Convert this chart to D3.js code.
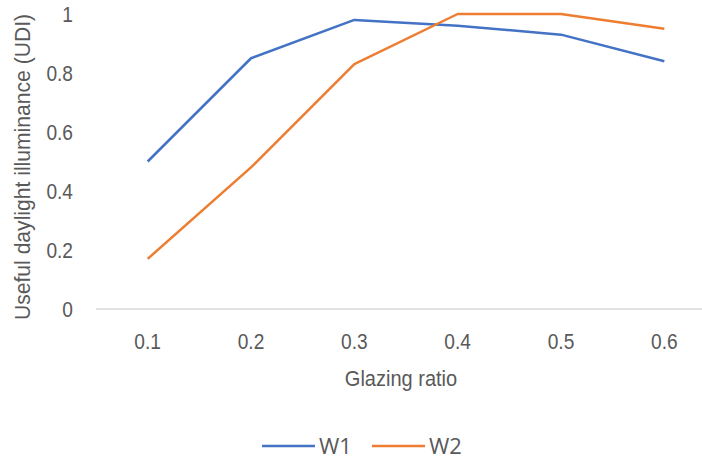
<!DOCTYPE html>
<html><head><meta charset="utf-8">
<script src="https://cdn.jsdelivr.net/npm/d3@7"></script>
<style>body{margin:0;background:#fff}</style>
</head><body><svg id="c" width="702" height="459"></svg>
<script>
const categories = ["0.1","0.2","0.3","0.4","0.5","0.6"];
const w1 = [0.50, 0.85, 0.98, 0.96, 0.93, 0.84];
const w2 = [0.17, 0.48, 0.83, 1.00, 1.00, 0.95];
const yTicks = [0, 0.2, 0.4, 0.6, 0.8, 1];
const seriesNames = ["W1","W2"];
const colors = ["#4472C4","#ED7D31"];

const svg = d3.select("#c");
const font = "'Liberation Sans',Arial,sans-serif";
const x = d3.scaleBand().domain(categories).range([96, 716]);
const y = d3.scaleLinear().domain([0, 1]).range([309, 14]);

// baseline
svg.append("line").attr("x1", 96).attr("x2", 702).attr("y1", y(0)).attr("y2", y(0))
  .attr("stroke", "#d9d9d9").attr("stroke-width", 1.3);

// helper: condensed text drawn at (px,py) with horizontal scale sx
function ctext(px, py, str, anchor, sx, rot) {
  const g = svg.append("g").attr("transform", `translate(${px},${py})` + (rot ? ` rotate(${rot})` : "") + ` scale(${sx},1)`);
  return g.append("text").attr("text-anchor", anchor).attr("font-family", font)
    .attr("font-size", 22).attr("fill", "#595959").text(str);
}

// y tick labels
yTicks.forEach(d => {
  ctext(73, y(d), d === 0 || d === 1 ? String(d) : d.toFixed(1), "end", 0.87).attr("dy", "0.36em");
});

// x tick labels
categories.forEach(d => {
  ctext(x(d) + x.bandwidth()/2, 349, d, "middle", 0.87);
});

// axis titles
ctext(401, 386, "Glazing ratio", "middle", 0.91);
ctext(30, 167, "Useful daylight illuminance (UDI)", "middle", 0.96, -90);

const line = d3.line().x((d, i) => x(categories[i]) + x.bandwidth()/2).y(d => y(d));
[w1, w2].forEach((s, k) => {
  svg.append("path").datum(s).attr("d", line).attr("fill", "none")
    .attr("stroke", colors[k]).attr("stroke-width", 2.5).attr("stroke-linejoin", "round");
});

// legend
const lx = [262, 372];
seriesNames.forEach((n, k) => {
  svg.append("line").attr("x1", lx[k]).attr("x2", lx[k] + 53).attr("y1", 446).attr("y2", 446)
    .attr("stroke", colors[k]).attr("stroke-width", 2.5);
  svg.append("text").attr("x", lx[k] + 57).attr("y", 446).attr("dy", "0.36em")
    .attr("font-family", "'Open Sans',sans-serif").attr("font-size", 22).attr("fill", "#595959").text(n);
});
</script></body></html>
